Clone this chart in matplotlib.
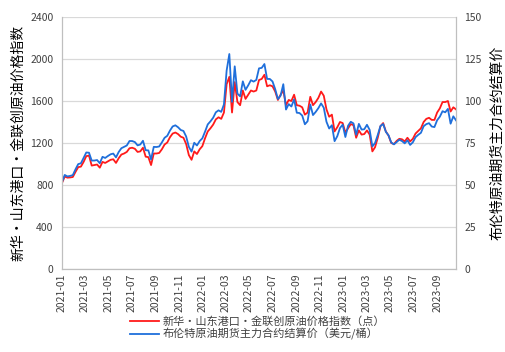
import matplotlib
matplotlib.use('Agg')
import matplotlib.pyplot as plt
import matplotlib.dates as mdates
import pandas as pd

plt.rcParams['font.family'] = ['Noto Sans CJK SC', 'DejaVu Sans']

# ---------------------------------------------------------------
# Data (weekly)
# ---------------------------------------------------------------
START_DATE = '2021-01-01'

# 布伦特原油期货主力合约结算价 (美元/桶) - right axis
brent = [
    # 2021
    51.80, 55.99, 55.10, 55.41, 55.88, 59.34, 62.43, 62.91, 66.13, 69.36,
    69.22, 64.53, 64.57, 64.86, 62.95, 66.77, 66.11, 67.25, 68.28, 68.71,
    66.44, 69.63, 71.89, 72.69, 73.51, 76.18, 76.17, 75.55, 73.59, 74.10,
    76.33, 70.70, 70.59, 65.18, 72.70, 72.61, 72.92, 75.34, 78.09, 79.28,
    82.39, 84.86, 85.53, 84.38, 82.74, 82.17, 78.89, 72.72, 69.88, 75.15,
    73.52, 76.14, 77.78,
    # 2022
    81.75, 86.06, 87.89, 90.03, 93.27, 94.44, 93.54, 97.93, 118.11, 127.98,
    99.50, 120.65, 104.39, 102.78, 111.70, 106.65, 109.34, 112.39, 111.55, 112.55,
    119.43, 119.72, 122.01, 113.12, 113.12, 111.63, 107.02, 101.16, 103.20, 110.01,
    94.92, 98.15, 96.72, 100.99, 93.02, 92.84, 91.35, 86.15, 87.96, 97.92,
    91.63, 93.50, 95.77, 98.57, 95.99, 87.62, 83.63, 85.57, 76.10, 79.04,
    83.92, 85.91,
    # 2023
    78.57, 85.28, 87.63, 86.66, 79.94, 86.39, 83.00, 83.16, 85.83, 82.78,
    72.97, 74.99, 79.77, 85.12, 86.31, 81.66, 79.54, 75.30, 74.17, 75.58,
    76.95, 76.13, 74.79, 76.61, 73.85, 75.41, 78.47, 79.87, 81.07, 84.99,
    86.24, 86.81, 84.80, 84.48, 88.55, 90.65, 93.93, 93.27, 95.31, 86.50,
    90.89, 88.50,
]

# 新华・山东港口・金联创原油价格指数 (点) - left axis
index_pts = [
    # 2021
    819, 880, 870, 872, 876, 925, 970, 975, 1020, 1075,
    1080, 985, 990, 995, 965, 1020, 1010, 1025, 1040, 1045,
    1010, 1055, 1090, 1100, 1115, 1150, 1155, 1145, 1115, 1120,
    1155, 1070, 1065, 990, 1100, 1100, 1105, 1140, 1185, 1205,
    1255, 1290, 1300, 1285, 1260, 1250, 1190, 1085, 1040, 1120,
    1095, 1140, 1170,
    # 2022
    1245, 1310, 1340, 1375, 1425, 1445, 1430, 1490, 1760, 1830,
    1490, 1780, 1590, 1560, 1700, 1620, 1660, 1700, 1690, 1700,
    1800, 1810, 1850, 1740, 1750, 1740, 1690, 1610, 1660, 1700,
    1560, 1610, 1600, 1660, 1560, 1555, 1540, 1470, 1490, 1640,
    1560, 1590, 1630, 1690, 1650, 1520, 1450, 1470, 1310, 1350,
    1400, 1390,
    # 2023
    1300, 1340, 1380, 1370, 1250, 1320, 1280, 1285, 1320, 1280,
    1120, 1160, 1250, 1360, 1390, 1310, 1270, 1200, 1190, 1220,
    1240, 1235, 1215, 1250, 1215, 1240, 1290, 1315, 1340, 1400,
    1430, 1440, 1420, 1420, 1490, 1530, 1590, 1590, 1600, 1500,
    1540, 1520,
]

LEFT_LABEL = '新华・山东港口・金联创原油价格指数'
RIGHT_LABEL = '布伦特原油期货主力合约结算价'
LEGEND_RED = '新华・山东港口・金联创原油价格指数（点）'
LEGEND_BLUE = '布伦特原油期货主力合约结算价（美元/桶）'

LEFT_TICKS = [0, 400, 800, 1200, 1600, 2000, 2400]
RIGHT_TICKS = [0, 25, 50, 75, 100, 125, 150]

RED = '#FF1A1A'
BLUE = '#1F6FDB'
GRID = '#D9D9D9'
SPINE = '#BFBFBF'
TEXT = '#404040'

# ---------------------------------------------------------------
# Plot
# ---------------------------------------------------------------
dates = pd.date_range(START_DATE, periods=len(brent), freq='W-FRI')

fig = plt.figure(figsize=(5.05, 3.52), dpi=100)
ax = fig.add_axes([0.1228, 0.2358, 0.7802, 0.7159])
ax2 = ax.twinx()

l1, = ax.plot(dates, index_pts, color=RED, linewidth=1.3, label=LEGEND_RED)
l2, = ax2.plot(dates, brent, color=BLUE, linewidth=1.3, label=LEGEND_BLUE)

ax.set_ylim(0, 2400)
ax.set_yticks(LEFT_TICKS)
ax2.set_ylim(0, 150)
ax2.set_yticks(RIGHT_TICKS)
ax.set_xlim(dates[0], dates[-1])

ax.xaxis.set_major_locator(mdates.MonthLocator(bymonth=[1, 3, 5, 7, 9, 11]))
ax.xaxis.set_major_formatter(mdates.DateFormatter('%Y-%m'))

ax.grid(True, axis='y', color=GRID, linewidth=0.9)
ax.set_axisbelow(True)

for a in (ax, ax2):
    a.spines['top'].set_visible(False)
    for s in ('left', 'right', 'bottom'):
        a.spines[s].set_color(SPINE)
    a.tick_params(length=0, labelsize=7.5, colors=TEXT)

ax.tick_params(axis='x', rotation=90, pad=3)
ax.tick_params(axis='y', pad=6)
ax2.tick_params(axis='y', pad=6)

ax.set_ylabel(LEFT_LABEL, fontsize=10, color='black', labelpad=4)
ax2.set_ylabel(RIGHT_LABEL, fontsize=10, color='black', rotation=90, labelpad=6)

fig.legend(handles=[l1, l2], loc='lower center', bbox_to_anchor=(0.51, 0.005),
           frameon=False, fontsize=8, handlelength=2.6, handletextpad=0.4,
           labelspacing=0.1, labelcolor=TEXT)

fig.savefig('out.png', dpi=100)
